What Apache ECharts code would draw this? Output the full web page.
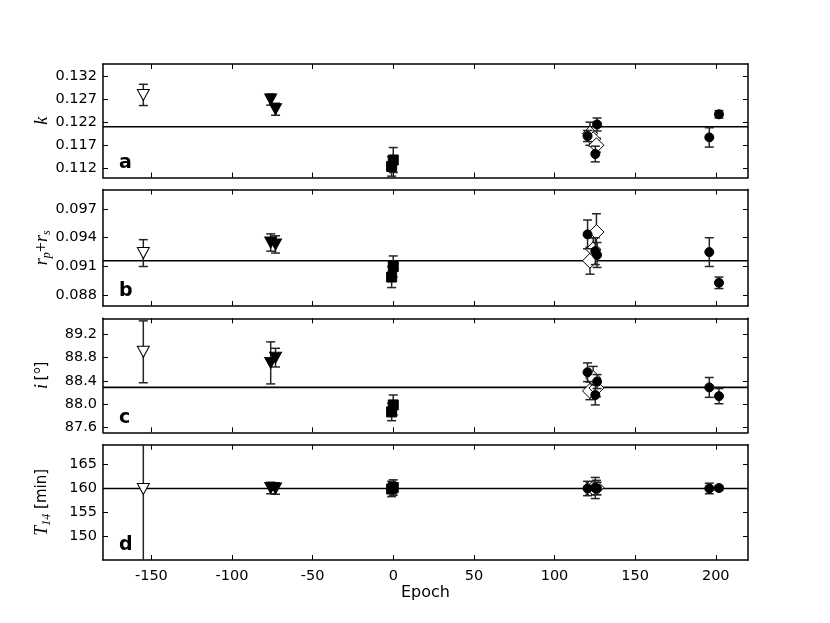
<!DOCTYPE html>
<html>
<head>
<meta charset="utf-8">
<script src="https://cdn.jsdelivr.net/npm/echarts@6/dist/echarts.min.js"></script>
<style>html,body{margin:0;padding:0;background:#fff}#c{width:830px;height:623px}</style>
</head>
<body>
<div id="c"></div>
<script>
// ---------- data ----------
const xTicks = [-150, -100, -50, 0, 50, 100, 150, 200];
const kTicks = [0.112, 0.117, 0.122, 0.127, 0.132];
const rTicks = [0.088, 0.091, 0.094, 0.097];
const iTicks = [87.6, 88.0, 88.4, 88.8, 89.2];
const tTicks = [150, 155, 160, 165];

const epochOpenTri = [-155];
const epochFilledTri = [-76, -73];
const epochSquare = [-1, 0];
const epochCircle = [120.5, 125.3, 126.4, 196, 202];
const epochDiamond = [122, 124, 126];

// panel a: k
const kOpenTri = [0.1279];              const kOpenTriErr = [0.0023];
const kFilledTri = [0.1269, 0.1248];    const kFilledTriErr = [0.0012, 0.0013];
const kSquare = [0.1124, 0.1138];       const kSquareErr = [0.0021, 0.0027];
const kCircle = [0.1190, 0.1151, 0.1215, 0.1187, 0.1237];
const kCircleErr = [0.0012, 0.0017, 0.0014, 0.0021, 0.0008];
const kDiamond = [0.1195, 0.1183, 0.1170]; const kDiamondErr = [0.0025, 0.0015, 0.0015];

// panel b: rp + rs
const rOpenTri = [0.0924];              const rOpenTriErr = [0.0014];
const rFilledTri = [0.0935, 0.0933];    const rFilledTriErr = [0.0009, 0.0009];
const rSquare = [0.0899, 0.0910];       const rSquareErr = [0.0011, 0.0011];
const rCircle = [0.09435, 0.0926, 0.0922, 0.0925, 0.0893];
const rCircleErr = [0.0015, 0.0014, 0.0013, 0.0015, 0.0006];
const rDiamond = [0.0916, 0.0928, 0.0946]; const rDiamondErr = [0.0014, 0.0012, 0.0019];

// panel c: i
const iOpenTri = [88.90];               const iOpenTriErr = [0.53];
const iFilledTri = [88.71, 88.80];      const iFilledTriErr = [0.36, 0.16];
const iSquare = [87.87, 87.99];         const iSquareErr = [0.15, 0.17];
const iCircle = [88.55, 88.16, 88.39, 88.29, 88.14];
const iCircleErr = [0.16, 0.17, 0.12, 0.17, 0.13];
const iDiamond = [88.23, 88.45, 88.28]; const iDiamondErr = [0.15, 0.20, 0.15];

// panel d: T14
const tOpenTri = [159.8];               const tOpenTriErr = [25];
const tFilledTri = [160.0, 159.9];      const tFilledTriErr = [1.2, 1.2];
const tSquare = [159.8, 160.1];         const tSquareErr = [1.6, 1.6];
const tCircle = [159.9, 160.0, 159.9, 159.9, 160.0];
const tCircleErr = [1.5, 2.2, 1.3, 1.1, 0.5];
const tDiamond = [159.9, 160.0, 160.1]; const tDiamondErr = [1.2, 1.2, 1.5];

const refLines = [0.1210, 0.0916, 88.29, 159.9];
const xRange = [-180, 220];
const yRanges = [[0.11001, 0.1346], [0.08688, 0.09903], [87.521, 89.474], [145, 169.02]];
const panelLetters = ['a', 'b', 'c', 'd'];

// ---------- layout ----------
const gridBoxes = [
  {top: 64, height: 113.5},
  {top: 189.5, height: 116.5},
  {top: 318.3, height: 114},
  {top: 444.7, height: 115.3}
];

const panelData = [
  {ticks: kTicks, dec: 3, ot: [kOpenTri, kOpenTriErr], ft: [kFilledTri, kFilledTriErr], sq: [kSquare, kSquareErr], ci: [kCircle, kCircleErr], di: [kDiamond, kDiamondErr]},
  {ticks: rTicks, dec: 3, ot: [rOpenTri, rOpenTriErr], ft: [rFilledTri, rFilledTriErr], sq: [rSquare, rSquareErr], ci: [rCircle, rCircleErr], di: [rDiamond, rDiamondErr]},
  {ticks: iTicks, dec: 1, ot: [iOpenTri, iOpenTriErr], ft: [iFilledTri, iFilledTriErr], sq: [iSquare, iSquareErr], ci: [iCircle, iCircleErr], di: [iDiamond, iDiamondErr]},
  {ticks: tTicks, dec: 0, ot: [tOpenTri, tOpenTriErr], ft: [tFilledTri, tFilledTriErr], sq: [tSquare, tSquareErr], ci: [tCircle, tCircleErr], di: [tDiamond, tDiamondErr]}
];

const yNames = [
  '{i|k}',
  '{i|r}{s|p}{n|+}{i|r}{s|s}',
  '{i|i} {t|[}{i|°}{t|]}',
  '{i|T}{s|14}{t| [min]}'
];

const FONT = 'DejaVu Sans';
const frame = {show: true, onZero: false, lineStyle: {color: '#000', width: 1.5}};
const tick = (vals) => ({show: true, inside: true, length: 5, customValues: vals, lineStyle: {color: '#000', width: 1}});

const grid = [], xAxis = [], yAxis = [], series = [], graphic = [];

function zip(xs, ys, es) { return xs.map((x, i) => [x, ys[i], es[i]]); }

function errSeries(gi, xs, ys, es, z) {
  return {
    type: 'custom', xAxisIndex: gi * 2, yAxisIndex: gi * 2, z: z,
    data: zip(xs, ys, es), encode: {x: 0, y: 1},
    renderItem: function (params, api) {
      const cs = params.coordSys;
      const x = api.value(0), y = api.value(1), e = api.value(2);
      const p = api.coord([x, y]);
      const hi = api.coord([x, y + e]);
      const lo = api.coord([x, y - e]);
      const top = cs.y, bot = cs.y + cs.height;
      const y1 = Math.max(hi[1], top), y2 = Math.min(lo[1], bot);
      const st = {stroke: '#262626', lineWidth: 1.5};
      const ch = [{type: 'line', shape: {x1: p[0], y1: y1, x2: p[0], y2: y2}, style: st}];
      if (hi[1] >= top) ch.push({type: 'line', shape: {x1: p[0] - 4.5, y1: hi[1], x2: p[0] + 4.5, y2: hi[1]}, style: st});
      if (lo[1] <= bot) ch.push({type: 'line', shape: {x1: p[0] - 4.5, y1: lo[1], x2: p[0] + 4.5, y2: lo[1]}, style: st});
      return {type: 'group', children: ch};
    },
    silent: true
  };
}

function markSeries(gi, xs, ys, symbol, size, rotate, fill, z) {
  return {
    type: 'scatter', xAxisIndex: gi * 2, yAxisIndex: gi * 2, z: z,
    data: xs.map((x, i) => [x, ys[i]]),
    symbol: symbol, symbolSize: size, symbolRotate: rotate,
    itemStyle: {color: fill, borderColor: '#000', borderWidth: 1, opacity: 1},
    silent: true
  };
}

gridBoxes.forEach((g, gi) => {
  grid.push({left: 103, right: 82, top: g.top, height: g.height});
  const last = gi === 3;
  xAxis.push({
    type: 'value', gridIndex: gi, position: 'bottom', min: xRange[0], max: xRange[1],
    axisLine: frame, axisTick: tick(xTicks), splitLine: {show: false},
    axisLabel: {show: last, customValues: xTicks, fontSize: 14.5, color: '#000', fontFamily: FONT, margin: 9},
    name: last ? 'Epoch' : '', nameLocation: 'middle', nameGap: 25,
    nameTextStyle: {fontSize: 16, color: '#000', fontFamily: FONT}
  });
  xAxis.push({
    type: 'value', gridIndex: gi, position: 'top', min: xRange[0], max: xRange[1],
    axisLine: frame, axisTick: tick(xTicks), splitLine: {show: false}, axisLabel: {show: false}
  });
  const pd = panelData[gi];
  yAxis.push({
    type: 'value', gridIndex: gi, position: 'left', min: yRanges[gi][0], max: yRanges[gi][1],
    axisLine: frame, axisTick: tick(pd.ticks), splitLine: {show: false},
    axisLabel: {customValues: pd.ticks, fontSize: 14.5, color: '#000', fontFamily: FONT, margin: 6,
      formatter: (v) => Number(v).toFixed(pd.dec)},
    name: yNames[gi], nameLocation: 'middle', nameRotate: 90, nameGap: 50, nameMoveOverlap: false,
    nameTextStyle: {
      color: '#000',
      rich: {
        i: {fontFamily: 'Liberation Serif', fontStyle: 'italic', fontSize: 18, color: '#000', lineHeight: 22},
        s: {fontFamily: 'Liberation Serif', fontStyle: 'italic', fontSize: 12, color: '#000', lineHeight: 22, verticalAlign: 'bottom', padding: [10, 0, 0, 0]},
        n: {fontFamily: 'Liberation Serif', fontSize: 18, color: '#000', lineHeight: 22},
        t: {fontFamily: FONT, fontSize: 15, color: '#000', lineHeight: 22}
      }
    }
  });
  yAxis.push({
    type: 'value', gridIndex: gi, position: 'right', min: yRanges[gi][0], max: yRanges[gi][1],
    axisLine: frame, axisTick: tick(pd.ticks), splitLine: {show: false}, axisLabel: {show: false}
  });

  // reference line
  series.push({
    type: 'line', xAxisIndex: gi * 2, yAxisIndex: gi * 2, z: 1,
    data: [[xRange[0], refLines[gi]], [xRange[1], refLines[gi]]],
    symbol: 'none', lineStyle: {color: '#000', width: 1.6}, silent: true, animation: false
  });

  // error bars + markers
  series.push(errSeries(gi, epochOpenTri, pd.ot[0], pd.ot[1], 2));
  series.push(markSeries(gi, epochOpenTri, pd.ot[0], 'triangle', [12, 11], 180, '#fff', 3));
  series.push(errSeries(gi, epochFilledTri, pd.ft[0], pd.ft[1], 2));
  series.push(markSeries(gi, epochFilledTri, pd.ft[0], 'triangle', [12, 11], 180, '#000', 3));
  series.push(errSeries(gi, epochSquare, pd.sq[0], pd.sq[1], 2));
  series.push(markSeries(gi, epochSquare, pd.sq[0], 'rect', 10, 0, '#000', 3));
  series.push(errSeries(gi, epochDiamond, pd.di[0], pd.di[1], 2));
  series.push(markSeries(gi, epochDiamond, pd.di[0], 'diamond', 15, 0, '#fff', 3));
  series.push(errSeries(gi, epochCircle, pd.ci[0], pd.ci[1], 4));
  series.push(markSeries(gi, epochCircle, pd.ci[0], 'circle', 9, 0, '#000', 5));

  graphic.push({
    type: 'text', left: 119, top: g.top + g.height - 24, z: 100,
    style: {text: panelLetters[gi], font: 'bold 19px "DejaVu Sans"', fill: '#000'}
  });
});

const chart = echarts.init(document.getElementById('c'), null, {renderer: 'canvas'});
chart.setOption({
  animation: false,
  backgroundColor: '#fff',
  grid: grid, xAxis: xAxis, yAxis: yAxis, series: series, graphic: graphic
});
</script>
</body>
</html>
